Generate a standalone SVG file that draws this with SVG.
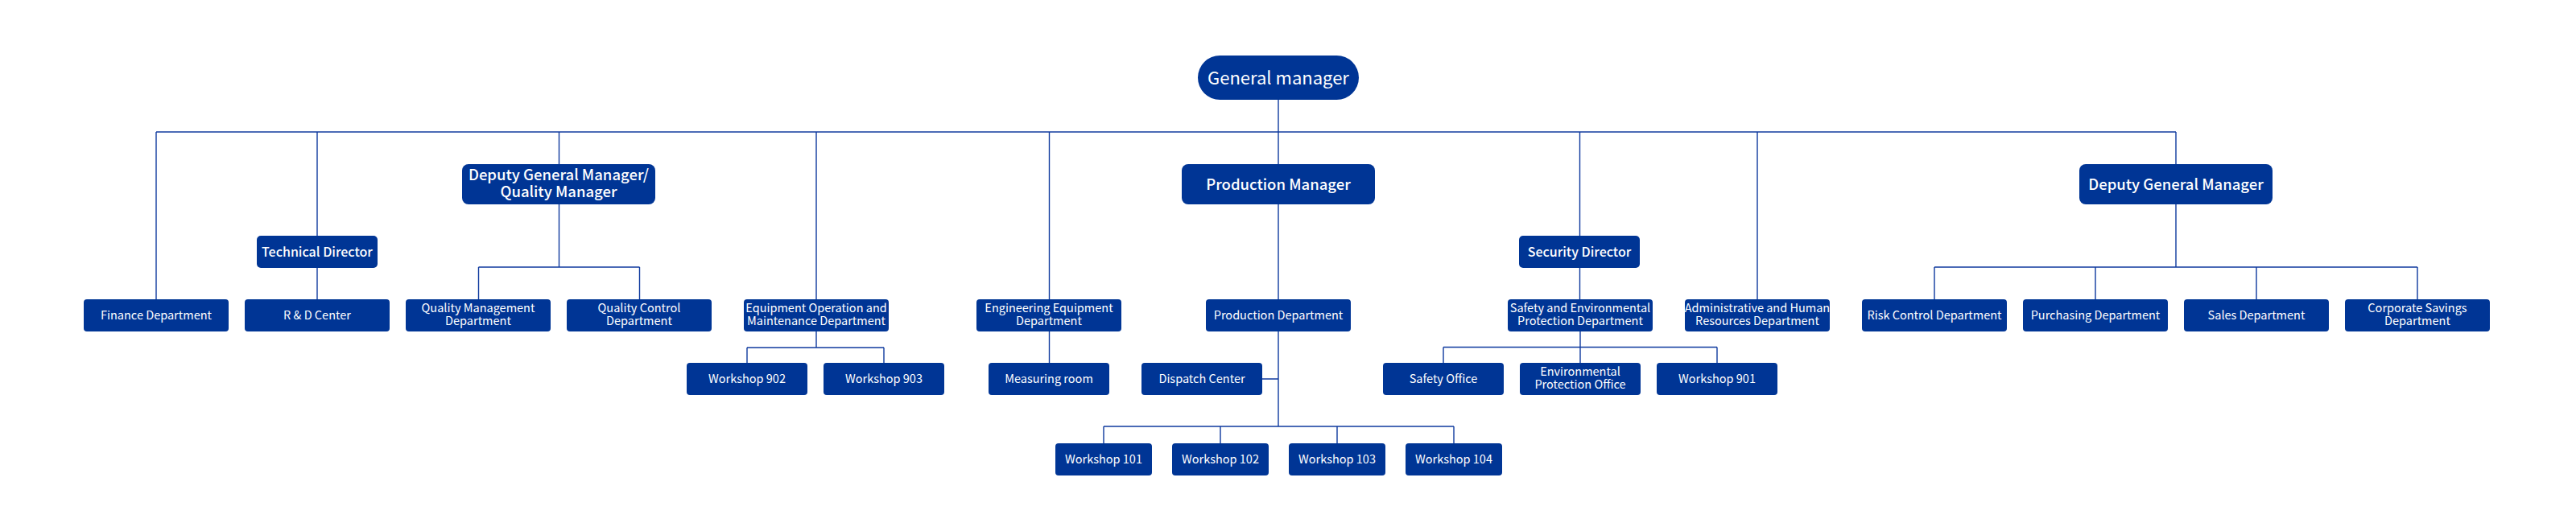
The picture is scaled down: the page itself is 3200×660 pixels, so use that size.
<svg xmlns="http://www.w3.org/2000/svg" width="3200" height="660" viewBox="0 0 3200 660">
<style>
.bg{fill:#ffffff}
.box{fill:#003595}
.ln{fill:none;stroke:#0f3a9e;stroke-width:1.4}
text{fill:#ffffff;font-family:"Noto Sans CJK SC","Noto Sans","Liberation Sans",sans-serif;text-anchor:middle}
.t16{font-size:14.5px}
.t18{font-size:16px;font-weight:500}
.t20{font-size:18.5px;font-weight:500}
.t24{font-size:22px}
</style>
<rect class="bg" x="0" y="0" width="3200" height="660"/>
<g id="connectors">
<path class="ln" d="M1588 124V204"/>
<path class="ln" d="M194 164H2703"/>
<path class="ln" d="M194 164V372M394 164V293M694.5 164V204M1014 164V372M1303.5 164V372M1962.5 164V293M2183 164V372M2703 164V204"/>
<path class="ln" d="M394 333V372"/>
<path class="ln" d="M694.5 254V332M594.5 332H794.5M594.5 332V372M794.5 332V372"/>
<path class="ln" d="M1588 254V372"/>
<path class="ln" d="M1588 412V530M1568 471H1588M1371 530H1806M1371 530V551M1516 530V551M1661 530V551M1806 530V551"/>
<path class="ln" d="M1014 412V432M928 432H1098M928 432V451M1098 432V451"/>
<path class="ln" d="M1303.5 412V451"/>
<path class="ln" d="M1962.5 333V372"/>
<path class="ln" d="M1963 412V451M1793 431.5H2133M1793 431.5V451M2133 431.5V451"/>
<path class="ln" d="M2703 254V332M2403 332H3003M2403 332V372M2603 332V372M2803 332V372M3003 332V372"/>
</g>
<g id="gm"><rect class="box" x="1488" y="69" width="200" height="55" rx="27.5"/><text class="t24" x="1588" y="104.5">General manager</text></g>
<g id="dgm-qm"><rect class="box" x="574" y="204" width="240" height="50" rx="8"/><text class="t20" x="694" y="224">Deputy General Manager/</text><text class="t20" x="694" y="245">Quality Manager</text></g>
<g id="prod-mgr"><rect class="box" x="1468" y="204" width="240" height="50" rx="8"/><text class="t20" x="1588" y="235.5">Production Manager</text></g>
<g id="dgm"><rect class="box" x="2583" y="204" width="240" height="50" rx="8"/><text class="t20" x="2703" y="235.5">Deputy General Manager</text></g>
<g id="tech-dir"><rect class="box" x="319" y="293" width="150" height="40" rx="5"/><text class="t18" x="394" y="318.5">Technical Director</text></g>
<g id="sec-dir"><rect class="box" x="1887" y="293" width="150" height="40" rx="5"/><text class="t18" x="1962" y="318.5">Security Director</text></g>
<g id="finance"><rect class="box" x="104" y="372" width="180" height="40" rx="4"/><text class="t16" x="194" y="397">Finance Department</text></g>
<g id="rd"><rect class="box" x="304" y="372" width="180" height="40" rx="4"/><text class="t16" x="394" y="397">R &amp; D Center</text></g>
<g id="qmd"><rect class="box" x="504" y="372" width="180" height="40" rx="4"/><text class="t16" x="594" y="388">Quality Management</text><text class="t16" x="594" y="404">Department</text></g>
<g id="qcd"><rect class="box" x="704" y="372" width="180" height="40" rx="4"/><text class="t16" x="794" y="388">Quality Control</text><text class="t16" x="794" y="404">Department</text></g>
<g id="eom"><rect class="box" x="924" y="372" width="180" height="40" rx="4"/><text class="t16" x="1014" y="388">Equipment Operation and</text><text class="t16" x="1014" y="404">Maintenance Department</text></g>
<g id="eng-eq"><rect class="box" x="1213" y="372" width="180" height="40" rx="4"/><text class="t16" x="1303" y="388">Engineering Equipment</text><text class="t16" x="1303" y="404">Department</text></g>
<g id="prod-dept"><rect class="box" x="1498" y="372" width="180" height="40" rx="4"/><text class="t16" x="1588" y="397">Production Department</text></g>
<g id="se-dept"><rect class="box" x="1873" y="372" width="180" height="40" rx="4"/><text class="t16" x="1963" y="388">Safety and Environmental</text><text class="t16" x="1963" y="404">Protection Department</text></g>
<g id="admin-hr"><rect class="box" x="2093" y="372" width="180" height="40" rx="4"/><text class="t16" x="2183" y="388">Administrative and Human</text><text class="t16" x="2183" y="404">Resources Department</text></g>
<g id="risk"><rect class="box" x="2313" y="372" width="180" height="40" rx="4"/><text class="t16" x="2403" y="397">Risk Control Department</text></g>
<g id="purchasing"><rect class="box" x="2513" y="372" width="180" height="40" rx="4"/><text class="t16" x="2603" y="397">Purchasing Department</text></g>
<g id="sales"><rect class="box" x="2713" y="372" width="180" height="40" rx="4"/><text class="t16" x="2803" y="397">Sales Department</text></g>
<g id="savings"><rect class="box" x="2913" y="372" width="180" height="40" rx="4"/><text class="t16" x="3003" y="388">Corporate Savings</text><text class="t16" x="3003" y="404">Department</text></g>
<g id="ws902"><rect class="box" x="853" y="451" width="150" height="40" rx="4"/><text class="t16" x="928" y="476">Workshop 902</text></g>
<g id="ws903"><rect class="box" x="1023" y="451" width="150" height="40" rx="4"/><text class="t16" x="1098" y="476">Workshop 903</text></g>
<g id="measuring"><rect class="box" x="1228" y="451" width="150" height="40" rx="4"/><text class="t16" x="1303" y="476">Measuring room</text></g>
<g id="dispatch"><rect class="box" x="1418" y="451" width="150" height="40" rx="4"/><text class="t16" x="1493" y="476">Dispatch Center</text></g>
<g id="safety-office"><rect class="box" x="1718" y="451" width="150" height="40" rx="4"/><text class="t16" x="1793" y="476">Safety Office</text></g>
<g id="env-office"><rect class="box" x="1888" y="451" width="150" height="40" rx="4"/><text class="t16" x="1963" y="467">Environmental</text><text class="t16" x="1963" y="483">Protection Office</text></g>
<g id="ws901"><rect class="box" x="2058" y="451" width="150" height="40" rx="4"/><text class="t16" x="2133" y="476">Workshop 901</text></g>
<g id="ws101"><rect class="box" x="1311" y="551" width="120" height="40" rx="4"/><text class="t16" x="1371" y="576">Workshop 101</text></g>
<g id="ws102"><rect class="box" x="1456" y="551" width="120" height="40" rx="4"/><text class="t16" x="1516" y="576">Workshop 102</text></g>
<g id="ws103"><rect class="box" x="1601" y="551" width="120" height="40" rx="4"/><text class="t16" x="1661" y="576">Workshop 103</text></g>
<g id="ws104"><rect class="box" x="1746" y="551" width="120" height="40" rx="4"/><text class="t16" x="1806" y="576">Workshop 104</text></g>
</svg>
